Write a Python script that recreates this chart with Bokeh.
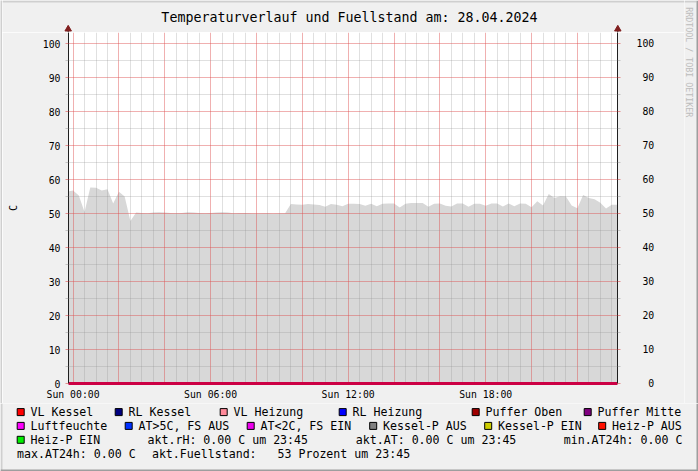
import numpy as np
from bokeh.plotting import figure
from bokeh.models import Range1d, LinearAxis, FixedTicker
from bokeh.layouts import column, row
from bokeh.embed import file_html
from bokeh.resources import INLINE
from bokeh.core.properties import value

FONT = "DejaVu Sans Mono"
NB = "\u00a0"

# ---------------- data ----------------
title_text = "Temperaturverlauf und Fuellstand am: 28.04.2024"
y_label = "C"
watermark = "RRDTOOL / TOBI OETIKER"
x_tick_hours = [0, 6, 12, 18]
x_tick_labels = ["Sun 00:00", "Sun 06:00", "Sun 12:00", "Sun 18:00"]
y_ticks = [0, 10, 20, 30, 40, 50, 60, 70, 80, 90, 100]
y_tick_labels = ["0", "10", "20", "30", "40", "50", "60", "70", "80", "90", "100"]

# Fuellstand (grey area), one sample every 15 minutes from -00:15 to 23:45
sample_start_h = -0.25
sample_step_h = 0.25
fuellstand = [
    56.5,
    56.8, 55.3, 50.5, 57.7, 57.6, 56.8, 57.2, 53.0, 56.4, 55.0, 47.8, 50.3,
    50.2, 50.1, 50.3, 50.4, 50.3, 50.2, 50.1, 50.2, 50.4, 50.3, 50.2, 50.1,
    50.2, 50.3, 50.4, 50.3, 50.1, 50.2, 50.2, 50.1, 50.0, 50.1, 50.1, 50.0,
    50.1, 50.1,
    52.8, 52.7, 52.6, 52.8, 52.7, 52.5, 52.0, 52.8, 52.6, 52.2, 52.9, 52.9,
    52.8, 52.3, 52.9, 52.2, 52.9, 53.0, 53.0, 51.8, 52.9, 53.1, 53.1, 53.1,
    52.0, 52.9, 53.0, 52.3, 52.1, 53.0, 53.0, 52.0, 52.9, 52.9, 52.3, 53.0,
    53.0, 52.1, 53.0, 52.2, 53.0, 52.9, 51.9, 53.6, 52.4, 55.8, 54.6, 55.1,
    55.0, 52.4, 51.6, 55.5, 54.6, 54.2, 53.2, 51.5, 52.6, 52.6,
]
# all temperature series read 0.00 over the whole day
temp_hours = [-0.2, 23.75]
temp_values = [0.0, 0.0]

legend_names = ["VL Kessel", "RL Kessel", "VL Heizung", "RL Heizung", "Puffer Oben", "Puffer Mitte",
                "Luftfeuchte", "AT>5C, FS AUS", "AT<2C, FS EIN", "Kessel-P AUS", "Kessel-P EIN", "Heiz-P AUS",
                "Heiz-P EIN"]
legend_colors = ["#FF0000", "#000080", "#FF8A9A", "#0000FF", "#A00000", "#800080",
                 "#FF00FF", "#0030FF", "#EE00EE", "#808080", "#CCCC00", "#FF1000",
                 "#00EE00"]
akt_rh = 0.00
akt_at = 0.00
min_at24 = 0.00
max_at24 = 0.00
akt_fuellstand = 53
stamp = "23:45"

# ---------------- layout (page pixels) ----------------
W, H = 698, 471
FL, FR, FT, FB = 68, 617, 32, 383
LEG_TOP = 403
LSTRIP = 2            # left bevel strip
SIDE = 684            # start of right strip (watermark)
X0, X1 = -0.2, 23.75
Y0, Y1 = 0.0, 103.3

BG = "#F0F0F0"
SHADE_A = "#CFCFCF"
SHADE_B = "#9E9E9E"
AXIS_C = "#1F1F1F"
ARROW_C = "#801F1F"
ZERO_C = "#CC0044"


def strip(x0, x1, y0, y1):
    f = figure(width=x1 - x0, height=y1 - y0, x_range=Range1d(x0, x1), y_range=Range1d(y1, y0),
               x_axis_type=None, y_axis_type=None, output_backend="svg", toolbar_location=None,
               min_border=0, min_border_left=0, min_border_right=0, min_border_top=0,
               min_border_bottom=0)
    f.outline_line_color = None
    f.background_fill_color = BG
    f.border_fill_color = BG
    return f


# ---------------- main chart ----------------
main_w = SIDE - LSTRIP
p = figure(width=main_w, height=LEG_TOP - FT, x_range=Range1d(X0, X1), y_range=Range1d(Y0, Y1),
           output_backend="svg", toolbar_location=None,
           min_border_left=FL - LSTRIP, min_border_right=SIDE - FR, min_border_top=0,
           min_border_bottom=LEG_TOP - FB)
p.background_fill_color = "white"
p.border_fill_color = BG
p.outline_line_color = None

hours = sample_start_h + sample_step_h * np.arange(len(fuellstand))
p.varea(x=hours, y1=0, y2=fuellstand, fill_color="#D8D8D8", level="underlay")
p.line(x=temp_hours, y=temp_values, line_color=ZERO_C, line_width=3)

# grids
major_x = list(range(0, 24, 2))
minor_x = [float(t) for t in np.arange(0, 24, 0.5) if t % 2 != 0]
p.xgrid.ticker = FixedTicker(ticks=major_x, minor_ticks=minor_x)
minor_y = [5, 15, 25, 35, 45, 55, 65, 75, 85, 95]
p.ygrid.ticker = FixedTicker(ticks=y_ticks, minor_ticks=minor_y)
for g in (p.xgrid[0], p.ygrid[0]):
    g.grid_line_color = "#DE4F4F"
    g.grid_line_alpha = 0.45
    g.minor_grid_line_color = "#8F8F8F"
    g.minor_grid_line_alpha = 0.28
    g.level = "glyph"

# x axis
xa = p.xaxis[0]
xa.ticker = FixedTicker(ticks=x_tick_hours)
xa.major_label_overrides = {h: t for h, t in zip(x_tick_hours, x_tick_labels)}
xa.axis_line_color = ZERO_C
xa.axis_line_width = 3
xa.major_tick_out = 0
xa.major_tick_in = 0
xa.minor_tick_out = 0
xa.minor_tick_in = 0
xa.major_label_standoff = 5
xa.major_label_text_font = FONT
xa.major_label_text_font_size = "9.8px"
xa.major_label_text_color = "black"


def style_y(ax):
    ax.ticker = FixedTicker(ticks=y_ticks, minor_ticks=minor_y)
    ax.axis_line_color = AXIS_C
    ax.major_tick_out = 3
    ax.major_tick_in = 0
    ax.minor_tick_out = 3
    ax.minor_tick_in = 0
    ax.major_tick_line_color = "#DE4F4F"
    ax.major_tick_line_alpha = 0.6
    ax.minor_tick_line_color = "#8F8F8F"
    ax.minor_tick_line_alpha = 0.45
    ax.major_label_text_font = FONT
    ax.major_label_text_font_size = "9.8px"
    ax.major_label_text_color = "black"


yl = p.yaxis[0]
style_y(yl)
yl.major_label_overrides = {v: t for v, t in zip(y_ticks, y_tick_labels)}
yl.major_label_standoff = 5
yl.axis_label = y_label
yl.axis_label_text_font = FONT
yl.axis_label_text_font_size = "10px"
yl.axis_label_text_font_style = "normal"
yl.axis_label_text_color = "black"
yl.axis_label_standoff = 21

# right axis: labels right-aligned by padding with non-breaking spaces (monospace font)
yr = LinearAxis()
style_y(yr)
width_max = max(len(t) for t in y_tick_labels)
yr.major_label_overrides = {v: NB * (width_max - len(t)) + t for v, t in zip(y_ticks, y_tick_labels)}
yr.major_label_standoff = 16
p.add_layout(yr, "right")

# ---------------- strips around the chart ----------------
left = strip(0, LSTRIP, 0, LEG_TOP)
left.background_fill_color = SHADE_A

top = strip(LSTRIP, SIDE, 0, FT)
top.quad(left=[LSTRIP], right=[SIDE], top=[0], bottom=[2], fill_color=SHADE_A, line_color=None)
top.text(x=[349], y=[16.5], text=[title_text], text_font=value(FONT), text_font_size="13.3px",
         text_align="center", text_baseline="middle", text_color="black")
axis_px = [FL - 0.3, FR + 0.3]
top.segment(x0=axis_px, y0=[28, 28], x1=axis_px, y1=[FT, FT], line_color=AXIS_C, line_width=1)
top.scatter(x=axis_px, y=[28.6, 28.6], marker="triangle", size=6.5,
            fill_color=ARROW_C, line_color=ARROW_C)

side = strip(SIDE, W, 0, LEG_TOP)
side.quad(left=[SIDE], right=[W - 2], top=[0], bottom=[2], fill_color=SHADE_A, line_color=None)
side.quad(left=[W - 2], right=[W], top=[0], bottom=[LEG_TOP], fill_color=SHADE_B, line_color=None)
side.text(x=[688.8], y=[61.7], text=[watermark], angle=-np.pi / 2, text_font=value(FONT),
          text_font_size="8.3px", text_align="center", text_baseline="middle", text_color="#BDBDBD")

# ---------------- legend block ----------------
leg = strip(0, W, LEG_TOP, H)
leg.quad(left=[0], right=[2], top=[LEG_TOP], bottom=[H], fill_color=SHADE_A, line_color=None)
leg.quad(left=[0], right=[W], top=[H - 2], bottom=[H], fill_color=SHADE_B, line_color=None)
leg.quad(left=[W - 2], right=[W], top=[LEG_TOP], bottom=[H], fill_color=SHADE_B, line_color=None)

row_y = [411.6, 425.4, 439.3, 453.0]
entry_x = [30, 128, 233, 352, 485, 597,
           30, 138, 260, 382.5, 497.5, 611.5,
           30]
entry_row = [0, 0, 0, 0, 0, 0, 1, 1, 1, 1, 1, 1, 2]
ey = [row_y[r] for r in entry_row]
leg.rect(x=[x - 9.8 for x in entry_x], y=ey, width=7, height=7,
         fill_color=legend_colors, line_color="black", line_width=1)
leg.text(x=entry_x, y=ey, text=legend_names, text_font=value(FONT), text_font_size="11.6px",
         text_baseline="middle", text_align="left", text_color="black")

stat_texts = [
    "akt.rH: %.2f C um %s" % (akt_rh, stamp),
    "akt.AT: %.2f C um %s" % (akt_at, stamp),
    "min.AT24h: %.2f C" % min_at24,
    "max.AT24h: %.2f C" % max_at24,
    "akt.Fuellstand:",
    "%d Prozent um %s" % (akt_fuellstand, stamp),
]
stat_x = [147, 355.3, 563.2, 16.5, 151.4, 277]
stat_y = [row_y[2], row_y[2], row_y[2], row_y[3], row_y[3], row_y[3]]
leg.text(x=stat_x, y=stat_y, text=stat_texts, text_font=value(FONT), text_font_size="11.6px",
         text_baseline="middle", text_align="left", text_color="black")

for fig in (p, left, top, side, leg):
    if "frame_align" in fig.properties():
        fig.frame_align = False

layout = column(row(left, column(top, p, spacing=0), side, spacing=0), leg, spacing=0)

html = file_html(layout, INLINE, title="Temperaturverlauf")
open("out.html", "w").write(html)
